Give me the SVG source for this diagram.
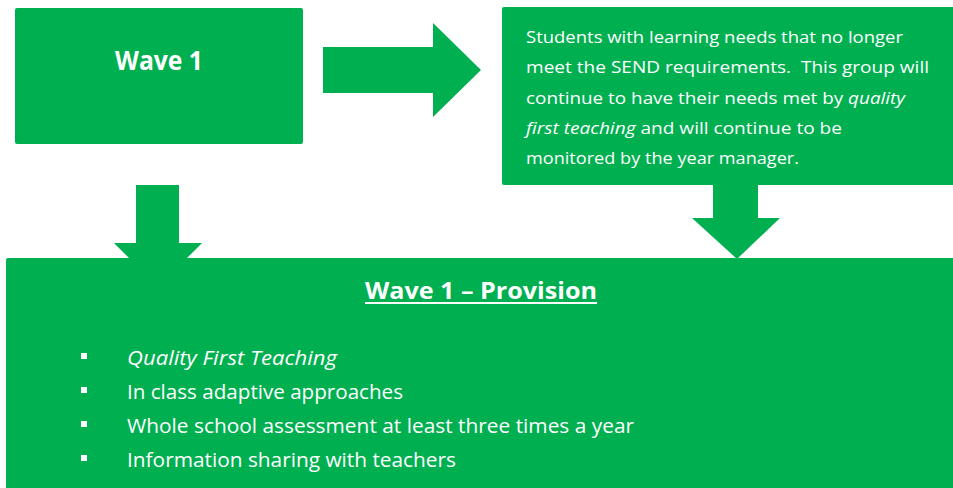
<svg xmlns="http://www.w3.org/2000/svg" width="953" height="488" viewBox="0 0 953 488">
<style>
.box{fill:#00B050}
.arrow{fill:#00B050}
text{fill:#fff;font-family:"Open Sans","Liberation Sans",sans-serif}
.title{font-weight:bold}
.body{font-size:17px}
.item{font-size:19.5px}
.it{font-style:italic}
</style>
<rect width="953" height="488" fill="#fff"/>
<g id="connectors">
<polygon class="arrow" points="323,47 433,47 433,23 481,70 433,117 433,93 323,93"/>
<polygon class="arrow" points="136,185 179,185 179,243 202,243 158,287 114,243 136,243"/>
<polygon class="arrow" points="713,184 758,184 758,218 780,218 737,259 692,218 713,218"/>
</g>
<g id="wave1">
<rect class="box" x="15" y="8" width="288" height="136" rx="2"/>
<text class="title" x="115" y="70" font-size="26" textLength="88" lengthAdjust="spacingAndGlyphs">Wave 1</text>
</g>
<g id="no-longer-send">
<rect class="box" x="502" y="7" width="460" height="178" rx="2"/>
<text class="body" x="526" y="43" textLength="377" lengthAdjust="spacingAndGlyphs">Students with learning needs that no longer</text>
<text class="body" x="526" y="73" textLength="403" lengthAdjust="spacingAndGlyphs" xml:space="preserve">meet the SEND requirements.  This group will</text>
<text class="body" x="526" y="104" textLength="379" lengthAdjust="spacingAndGlyphs">continue to have their needs met by <tspan class="it">quality</tspan></text>
<text class="body" x="526" y="134" textLength="316" lengthAdjust="spacingAndGlyphs"><tspan class="it">first teaching</tspan> and will continue to be</text>
<text class="body" x="526" y="164" textLength="273" lengthAdjust="spacingAndGlyphs">monitored by the year manager.</text>
</g>
<g id="wave1-provision">
<rect class="box" x="6" y="258" width="960" height="240" rx="2"/>
<text class="title" x="365" y="299" font-size="24" textLength="232" lengthAdjust="spacingAndGlyphs">Wave 1 – Provision</text>
<rect x="365" y="302" width="232" height="2" fill="#fff"/>
<rect x="81" y="353" width="6" height="6" fill="#fff"/>
<rect x="81" y="387" width="6" height="6" fill="#fff"/>
<rect x="81" y="421" width="6" height="6" fill="#fff"/>
<rect x="81" y="455" width="6" height="6" fill="#fff"/>
<text class="item it" x="127" y="365" textLength="210" lengthAdjust="spacingAndGlyphs">Quality First Teaching</text>
<text class="item" x="127" y="399" textLength="276" lengthAdjust="spacingAndGlyphs">In class adaptive approaches</text>
<text class="item" x="127" y="433" textLength="507" lengthAdjust="spacingAndGlyphs">Whole school assessment at least three times a year</text>
<text class="item" x="127" y="467" textLength="329" lengthAdjust="spacingAndGlyphs">Information sharing with teachers</text>
</g>
</svg>
